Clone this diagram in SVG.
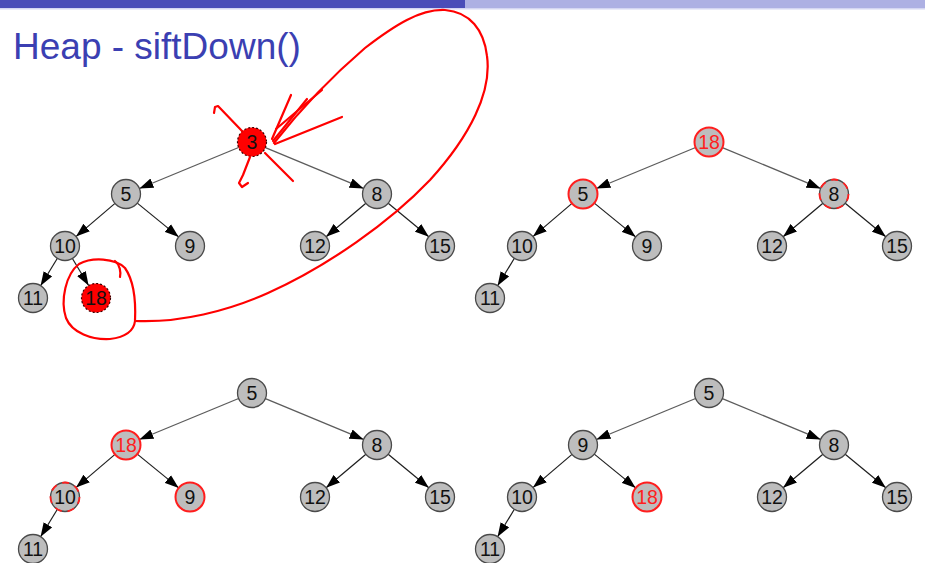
<svg xmlns="http://www.w3.org/2000/svg" width="925" height="563" viewBox="0 0 925 563">
<defs>
<style>
.e{stroke:#1e1e1e;stroke-width:1.2;fill:none;marker-end:url(#ah)}
.er{stroke:#5c5c5c;stroke-width:1.3;fill:none;marker-end:url(#ah)}
.n{fill:#bdbdbd;stroke:#4a4a4a;stroke-width:1.3}
.hl{fill:#bdbdbd;stroke:#ff1e1e;stroke-width:2}
.rd{fill:#ff0000;stroke:#3a0000;stroke-width:1.2;stroke-dasharray:2 2}
.dsh{fill:none;stroke:#ff1e1e;stroke-width:1.8;stroke-dasharray:7 6}
.t{font-family:"Liberation Sans",Arial,sans-serif;font-size:19.5px;text-anchor:middle;fill:#111}
.tr{fill:#ff1e1e}
.ink{fill:none;stroke:#ff0000;stroke-width:2.2;stroke-linecap:round;stroke-linejoin:round}
</style>
<marker id="ah" markerUnits="userSpaceOnUse" markerWidth="15" markerHeight="11" refX="14" refY="5.5" orient="auto">
<path d="M0,0.5 L14,5.5 L0,10.5 z" fill="#000"/>
</marker>
</defs>
<rect x="0" y="0" width="925" height="563" fill="#ffffff"/>
<rect x="0" y="0" width="465" height="8" fill="#4a4db8"/>
<rect x="465" y="0" width="460" height="8" fill="#adb0e3"/>
<rect x="0" y="8" width="925" height="1.5" fill="#d4d6f2"/>
<text x="13" y="59" font-family="'Liberation Sans',Arial,sans-serif" font-size="37" fill="#3b3fb2">Heap - siftDown()</text>

<g id="connectors">
<g id="c1">
<line class="er" x1="238.6" y1="147.5" x2="139.4" y2="188.5"/>
<line class="er" x1="265.4" y1="147.6" x2="363.6" y2="188.4"/>
<line class="e" x1="115" y1="203.4" x2="76" y2="236.6"/>
<line class="e" x1="137.3" y1="203.1" x2="178.7" y2="236.9"/>
<line class="e" x1="365.9" y1="203.3" x2="326.1" y2="236.7"/>
<line class="e" x1="388.2" y1="203.2" x2="428.8" y2="236.8"/>
<line class="e" x1="57.4" y1="258.3" x2="40.6" y2="285.7"/>
<line class="e" x1="72.4" y1="258.5" x2="88.6" y2="285.5"/>
</g>
<g id="c2" transform="translate(457,0)">
<line class="er" x1="238.6" y1="147.5" x2="139.4" y2="188.5"/>
<line class="er" x1="265.4" y1="147.6" x2="363.6" y2="188.4"/>
<line class="e" x1="115" y1="203.4" x2="76" y2="236.6"/>
<line class="e" x1="137.3" y1="203.1" x2="178.7" y2="236.9"/>
<line class="e" x1="365.9" y1="203.3" x2="326.1" y2="236.7"/>
<line class="e" x1="388.2" y1="203.2" x2="428.8" y2="236.8"/>
<line class="e" x1="57.4" y1="258.3" x2="40.6" y2="285.7"/>
</g>
<g id="c3" transform="translate(0,251)">
<line class="er" x1="238.6" y1="147.5" x2="139.4" y2="188.5"/>
<line class="er" x1="265.4" y1="147.6" x2="363.6" y2="188.4"/>
<line class="e" x1="115" y1="203.4" x2="76" y2="236.6"/>
<line class="e" x1="137.3" y1="203.1" x2="178.7" y2="236.9"/>
<line class="e" x1="365.9" y1="203.3" x2="326.1" y2="236.7"/>
<line class="e" x1="388.2" y1="203.2" x2="428.8" y2="236.8"/>
<line class="e" x1="57.4" y1="258.3" x2="40.6" y2="285.7"/>
</g>
<g id="c4" transform="translate(457,251)">
<line class="er" x1="238.6" y1="147.5" x2="139.4" y2="188.5"/>
<line class="er" x1="265.4" y1="147.6" x2="363.6" y2="188.4"/>
<line class="e" x1="115" y1="203.4" x2="76" y2="236.6"/>
<line class="e" x1="137.3" y1="203.1" x2="178.7" y2="236.9"/>
<line class="e" x1="365.9" y1="203.3" x2="326.1" y2="236.7"/>
<line class="e" x1="388.2" y1="203.2" x2="428.8" y2="236.8"/>
<line class="e" x1="57.4" y1="258.3" x2="40.6" y2="285.7"/>
</g>
</g>

<g id="tree1">
<g id="t1-n3"><circle class="rd" cx="252" cy="142" r="14.5"/><text class="t" x="252" y="149">3</text></g>
<g id="t1-n5"><circle class="n" cx="126" cy="194" r="14.5"/><text class="t" x="126" y="201">5</text></g>
<g id="t1-n8"><circle class="n" cx="377" cy="194" r="14.5"/><text class="t" x="377" y="201">8</text></g>
<g id="t1-n10"><circle class="n" cx="65" cy="246" r="14.5"/><text class="t" x="65" y="253">10</text></g>
<g id="t1-n9"><circle class="n" cx="190" cy="246" r="14.5"/><text class="t" x="190" y="253">9</text></g>
<g id="t1-n12"><circle class="n" cx="315" cy="246" r="14.5"/><text class="t" x="315" y="253">12</text></g>
<g id="t1-n15"><circle class="n" cx="440" cy="246" r="14.5"/><text class="t" x="440" y="253">15</text></g>
<g id="t1-n11"><circle class="n" cx="33" cy="298" r="14.5"/><text class="t" x="33" y="305">11</text></g>
<g id="t1-n18"><circle class="rd" cx="96" cy="298" r="14.5"/><text class="t" x="96" y="305">18</text></g>
</g>

<g id="tree2" transform="translate(457,0)">
<g id="t2-n18"><circle class="hl" cx="252" cy="142" r="14.5"/><text class="t tr" x="252" y="149">18</text></g>
<g id="t2-n5"><circle class="hl" cx="126" cy="194" r="14.5"/><text class="t" x="126" y="201">5</text></g>
<g id="t2-n8"><circle class="n" cx="377" cy="194" r="14.5" stroke="#000"/><circle class="dsh" cx="377" cy="194" r="14.5"/><text class="t" x="377" y="201">8</text></g>
<g id="t2-n10"><circle class="n" cx="65" cy="246" r="14.5"/><text class="t" x="65" y="253">10</text></g>
<g id="t2-n9"><circle class="n" cx="190" cy="246" r="14.5"/><text class="t" x="190" y="253">9</text></g>
<g id="t2-n12"><circle class="n" cx="315" cy="246" r="14.5"/><text class="t" x="315" y="253">12</text></g>
<g id="t2-n15"><circle class="n" cx="440" cy="246" r="14.5"/><text class="t" x="440" y="253">15</text></g>
<g id="t2-n11"><circle class="n" cx="33" cy="298" r="14.5"/><text class="t" x="33" y="305">11</text></g>
</g>

<g id="tree3" transform="translate(0,251)">
<g id="t3-n5"><circle class="n" cx="252" cy="142" r="14.5"/><text class="t" x="252" y="149">5</text></g>
<g id="t3-n18"><circle class="hl" cx="126" cy="194" r="14.5"/><text class="t tr" x="126" y="201">18</text></g>
<g id="t3-n8"><circle class="n" cx="377" cy="194" r="14.5"/><text class="t" x="377" y="201">8</text></g>
<g id="t3-n10"><circle class="n" cx="65" cy="246" r="14.5" stroke="#000"/><circle class="dsh" cx="65" cy="246" r="14.5"/><text class="t" x="65" y="253">10</text></g>
<g id="t3-n9"><circle class="hl" cx="190" cy="246" r="14.5"/><text class="t" x="190" y="253">9</text></g>
<g id="t3-n12"><circle class="n" cx="315" cy="246" r="14.5"/><text class="t" x="315" y="253">12</text></g>
<g id="t3-n15"><circle class="n" cx="440" cy="246" r="14.5"/><text class="t" x="440" y="253">15</text></g>
<g id="t3-n11"><circle class="n" cx="33" cy="298" r="14.5"/><text class="t" x="33" y="305">11</text></g>
</g>

<g id="tree4" transform="translate(457,251)">
<g id="t4-n5"><circle class="n" cx="252" cy="142" r="14.5"/><text class="t" x="252" y="149">5</text></g>
<g id="t4-n9"><circle class="n" cx="126" cy="194" r="14.5"/><text class="t" x="126" y="201">9</text></g>
<g id="t4-n8"><circle class="n" cx="377" cy="194" r="14.5"/><text class="t" x="377" y="201">8</text></g>
<g id="t4-n10"><circle class="n" cx="65" cy="246" r="14.5"/><text class="t" x="65" y="253">10</text></g>
<g id="t4-n18"><circle class="hl" cx="190" cy="246" r="14.5"/><text class="t tr" x="190" y="253">18</text></g>
<g id="t4-n12"><circle class="n" cx="315" cy="246" r="14.5"/><text class="t" x="315" y="253">12</text></g>
<g id="t4-n15"><circle class="n" cx="440" cy="246" r="14.5"/><text class="t" x="440" y="253">15</text></g>
<g id="t4-n11"><circle class="n" cx="33" cy="298" r="14.5"/><text class="t" x="33" y="305">11</text></g>
</g>

<g id="annotations">
<path class="ink" d="M135,321 C180,323 228,311 268,293 C328,266 390,222 430,180 C470,136 492,92 487,56 C484,30 470,12 445,10 C420,9 395,25 365,48 C330,78 300,110 274,143"/>
<path class="ink" d="M135,321 C136,300 134,281 125,268 C115,258 92,257 79,264 C66,274 60,300 66,318 C72,333 92,340 110,339 C126,337 134,330 135,321"/>
<path class="ink" d="M115,261 C120,265 121,272 120,277"/>
<path class="ink" d="M275,144 L342,117"/>
<path class="ink" d="M273,141 L307,99"/>
<path class="ink" d="M272,139 L291,95"/>
<path class="ink" d="M276,129 L322,90"/>
<path class="ink" d="M214,113 L215,107 L218,106 L242,131"/>
<path class="ink" d="M250,157 L243,175 L239,183 L242,187 L248,183"/>
<path class="ink" d="M265,153 L293,181"/>
</g>
</svg>
